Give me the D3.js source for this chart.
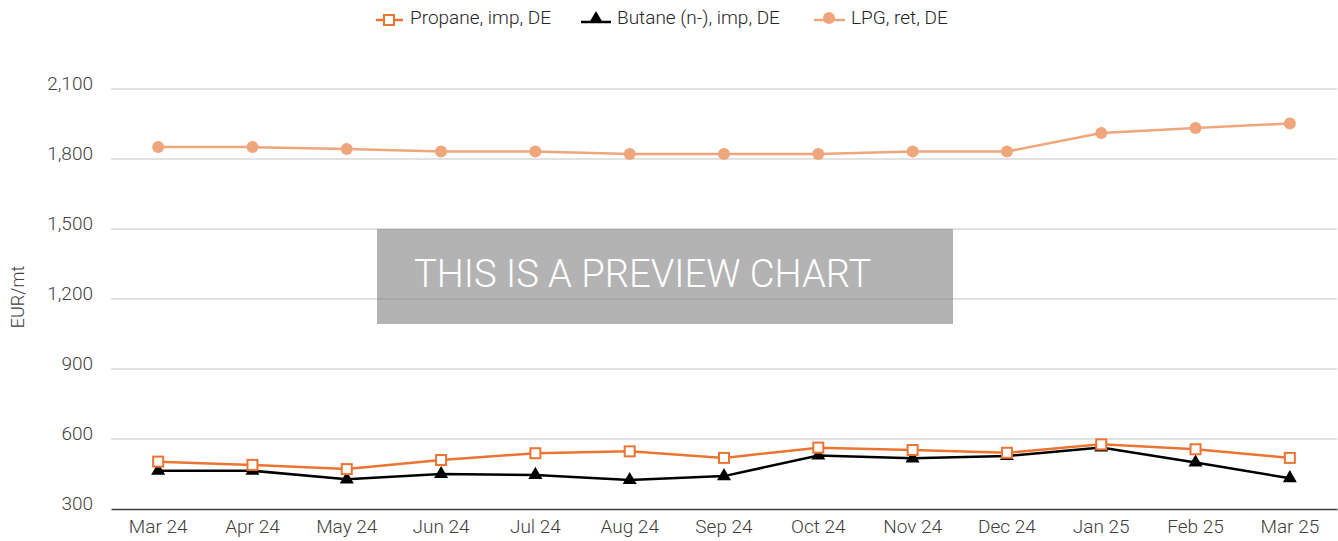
<!DOCTYPE html>
<html><head><meta charset="utf-8">
<script src="https://cdn.jsdelivr.net/npm/d3@7"></script>
<style>
body{margin:0;background:#fff;}
svg{display:block;font-family:Roboto, "Noto Sans", sans-serif;}
</style></head>
<body><svg id="c" width="1338" height="541"></svg>
<script>
const categories = ["Mar 24","Apr 24","May 24","Jun 24","Jul 24","Aug 24","Sep 24","Oct 24","Nov 24","Dec 24","Jan 25","Feb 25","Mar 25"];
const propane = [503,489,471,510,539,547,519,563,553,541,577,556,519];
const butane = [464,464,427,450,446,424,441,529,517,527,564,499,432];
const lpg = [1851,1851,1843,1832,1832,1821,1821,1821,1832,1832,1911,1933,1952];
const yTicks = [300,600,900,1200,1500,1800,2100];
const seriesNames = ["Propane, imp, DE","Butane (n-), imp, DE","LPG, ret, DE"];
const yTitle = "EUR/mt";
const watermark = "THIS IS A PREVIEW CHART";

(function(){
const svg = d3.select("#c");
const pLeft = 111, pRight = 1337, pTop = 89, pBottom = 509;
const fs = 19;
const x = d3.scaleBand().domain(categories).range([pLeft, pRight]);
const y = d3.scaleLinear().domain([300, 2100]).range([pBottom, pTop]);
const cx = d => x(d) + x.bandwidth()/2;

// gridlines
svg.append("g").selectAll("line").data(yTicks.slice(1)).join("line")
  .attr("x1", pLeft).attr("x2", pRight)
  .attr("y1", d => y(d)).attr("y2", d => y(d))
  .attr("stroke", "#c4c4c4").attr("stroke-width", 1);

// y axis labels
const yAxis = d3.axisLeft(y).tickValues(yTicks).tickSize(0).tickPadding(18).tickFormat(d3.format(","));
const gy = svg.append("g").attr("transform", `translate(${pLeft},-6)`).call(yAxis);
gy.select(".domain").remove();
gy.selectAll("text").attr("font-size", fs).attr("fill", "#404040").attr("font-family", "Roboto").attr("font-weight", 300);

// x axis
const xAxis = d3.axisBottom(x).tickSize(0).tickPadding(11);
const gx = svg.append("g").attr("transform", `translate(0,${pBottom})`).call(xAxis);
gx.select(".domain").attr("stroke", "#404040").attr("stroke-width", 1.5);
gx.selectAll("text").attr("font-size", fs).attr("fill", "#404040").attr("font-family", "Roboto").attr("font-weight", 300);

// y title
svg.append("text").attr("transform", "translate(24,297) rotate(-90)")
  .attr("text-anchor", "middle").attr("font-size", 18).attr("fill", "#404040").attr("font-weight", 300).text(yTitle);

const line = d3.line().x((d,i) => cx(categories[i])).y(d => y(d));
const cLpg = "#f0a67c", cProp = "#ec7432", cBut = "#000000";

// LPG
svg.append("path").datum(lpg).attr("d", line).attr("fill", "none").attr("stroke", cLpg).attr("stroke-width", 2.5);
svg.append("g").selectAll("circle").data(lpg).join("circle")
  .attr("cx", (d,i) => cx(categories[i])).attr("cy", d => y(d)).attr("r", 6).attr("fill", cLpg);

// Butane
svg.append("path").datum(butane).attr("d", line).attr("fill", "none").attr("stroke", cBut).attr("stroke-width", 2.5);
const tri = d3.symbol().type(d3.symbolTriangle).size(85);
svg.append("g").selectAll("path").data(butane).join("path")
  .attr("d", tri).attr("transform", (d,i) => `translate(${cx(categories[i])},${y(d)})`).attr("fill", cBut);

// Propane
svg.append("path").datum(propane).attr("d", line).attr("fill", "none").attr("stroke", cProp).attr("stroke-width", 2.5);
svg.append("g").selectAll("rect").data(propane).join("rect")
  .attr("x", (d,i) => cx(categories[i]) - 5).attr("y", d => y(d) - 5)
  .attr("width", 10).attr("height", 10).attr("fill", "#fff").attr("stroke", cProp).attr("stroke-width", 2);

// legend
const lg = svg.append("g");
const legendX = [376, 581, 814];
const ly = 18;
lg.append("line").attr("x1", legendX[0]).attr("x2", legendX[0]+27).attr("y1", ly+2).attr("y2", ly+2).attr("stroke", cProp).attr("stroke-width", 2.5);
lg.append("rect").attr("x", legendX[0]+8).attr("y", ly-3).attr("width", 10).attr("height", 10).attr("fill", "#fff").attr("stroke", cProp).attr("stroke-width", 2);
lg.append("line").attr("x1", legendX[1]).attr("x2", legendX[1]+30).attr("y1", ly+4).attr("y2", ly+4).attr("stroke", cBut).attr("stroke-width", 2.5);
lg.append("path").attr("d", tri).attr("transform", `translate(${legendX[1]+15},${ly+1})`).attr("fill", cBut);
lg.append("line").attr("x1", legendX[2]).attr("x2", legendX[2]+31).attr("y1", ly+2).attr("y2", ly+2).attr("stroke", cLpg).attr("stroke-width", 2.5);
lg.append("circle").attr("cx", legendX[2]+15).attr("cy", ly).attr("r", 6).attr("fill", cLpg);
const textX = [410, 617, 851];
lg.selectAll("text").data(seriesNames).join("text")
  .attr("x", (d,i) => textX[i]).attr("y", ly + 6)
  .attr("font-size", fs).attr("fill", "#262626").attr("font-weight", 300).text(d => d);

// watermark
svg.append("rect").attr("x", 377).attr("y", 229).attr("width", 576).attr("height", 95)
  .attr("fill", "#808080").attr("fill-opacity", 0.6);
svg.append("text").attr("x", 414).attr("y", 287).attr("font-size", 38.2).attr("font-weight", 300)
  .attr("fill", "#fff").text(watermark);
})();
</script></body></html>
